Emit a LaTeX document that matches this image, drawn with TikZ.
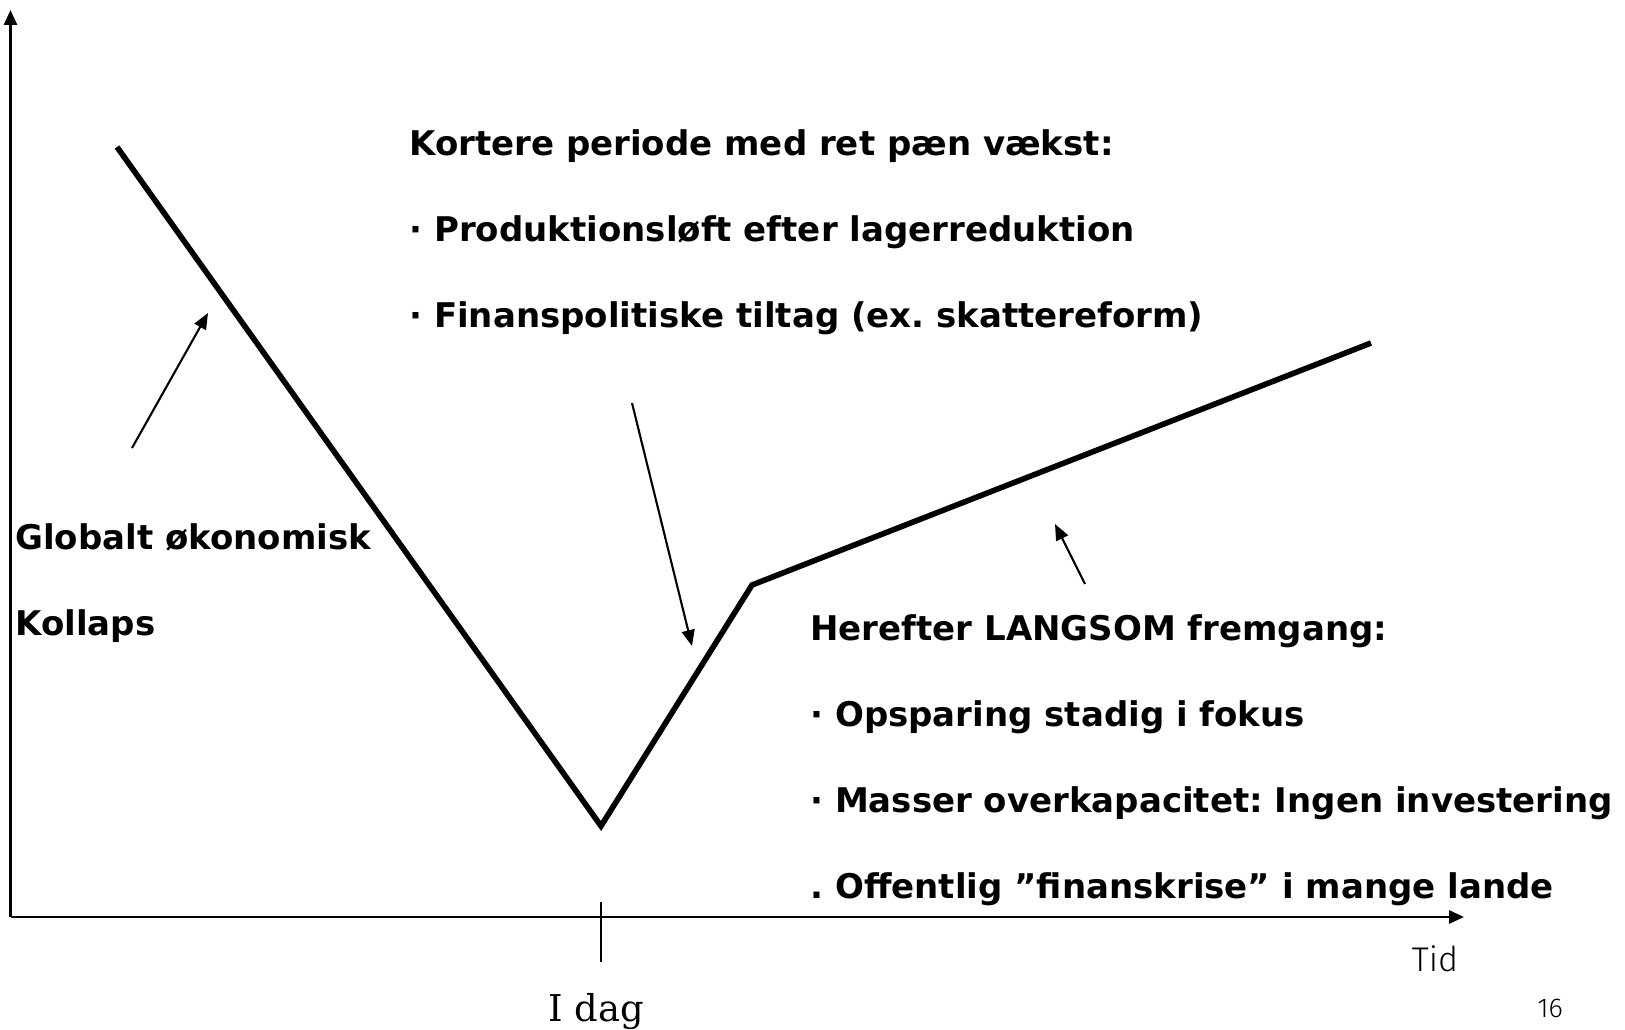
\documentclass[tikz,border=0pt]{standalone}
\usepackage{fontspec}
\setmainfont{Fira Sans}
\newfontfamily\lblfont{DejaVu Sans}
\newfontfamily\dagfont{DejaVu Serif}
\newfontfamily\tidfont{Fira Sans Light}
\usetikzlibrary{arrows.meta}
\frenchspacing

\tikzset{
  lbl/.style={anchor=base west, inner sep=0pt, font=\lblfont\fontsize{19.35}{22}\selectfont\bfseries},
  pil/.style={-{Triangle[length=0.32cm,width=0.26cm]}, line width=1.2pt},
  akse/.style={-{Triangle[length=0.3cm,width=0.26cm]}, line width=1.6pt}
}

\begin{document}
\begin{tikzpicture}[x=0.02cm, y=-0.02cm]
\useasboundingbox (0,0) rectangle (1625,1030);

% akser
\coordinate (O) at (10.5,917);
\coordinate (ytop) at (10.5,10);
\coordinate (xend) at (1464,917);
\draw [akse] (O)--(ytop);
\draw [akse] (O)--(xend);
\coordinate (t1) at (601,902);
\coordinate (t2) at (601,962);
\draw [line width=1.4pt] (t1)--(t2);

% forloebet
\coordinate (p0) at (117,147);
\coordinate (p1) at (601,826);
\coordinate (p2) at (752,585);
\coordinate (p3) at (1371,343);
\draw [line width=3.2pt, line join=miter] (p0)--(p1)--(p2)--(p3);

% tekst
\node [lbl] (kort) at (409,156) {Kortere periode med ret pæn vækst:};
\node [lbl] (prod) at (409,242) {· Produktionsløft efter lagerreduktion};
\node [lbl] (fin) at (409,328) {· Finanspolitiske tiltag (ex. skattereform)};

\node [lbl] (glob) at (15,549) {Globalt økonomisk};
\node [lbl] (koll) at (15,635) {Kollaps};

\node [lbl] (here) at (810,640) {Herefter LANGSOM fremgang:};
\node [lbl] (ops) at (810,726) {· Opsparing stadig i fokus};
\node [lbl] (mas) at (810,812) {· Masser overkapacitet: Ingen investering};
\node [lbl] (off) at (810,898) {. Offentlig ”finanskrise” i mange lande};

\node [font=\dagfont\fontsize{21}{24}\selectfont, anchor=base] (idag) at (596,1021) {I dag};
\node [font=\tidfont\fontsize{19.5}{22}\selectfont, anchor=base] (tid) at (1435,971) {Tid};
\node [font=\tidfont\fontsize{15.5}{18}\selectfont, anchor=base] (side) at (1550,1017) {16};

% pile
\coordinate (a1) at (132,448);
\coordinate (b1) at (208,313);
\coordinate (a2) at (632,403);
\coordinate (b2) at (692,646);
\coordinate (a3) at (1085,584);
\coordinate (b3) at (1055,524);
\draw [pil] (a1)--(b1);
\draw [pil] (a2)--(b2);
\draw [pil] (a3)--(b3);

\end{tikzpicture}
\end{document}
